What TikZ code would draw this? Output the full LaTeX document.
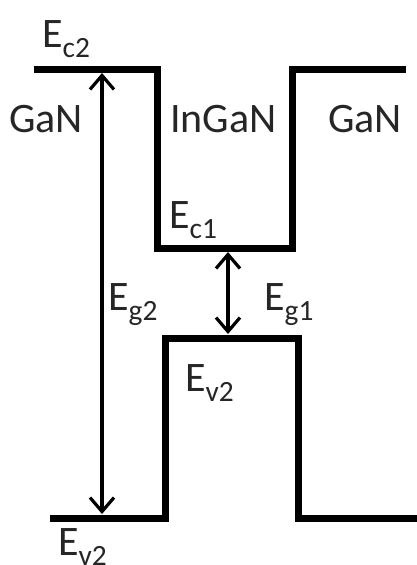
\documentclass[tikz,border=0pt]{standalone}
\usepackage{fontspec}
\setmainfont{Carlito}
\usetikzlibrary{arrows.meta}
\begin{document}
\begin{tikzpicture}[x=1pt,y=-1pt,
  band/.style={line width=7pt,line join=miter,line cap=rect},
  gaparrow/.style={line width=3.2pt,{Straight Barb[length=14pt,width=24pt]}-{Straight Barb[length=14pt,width=24pt]}},
  lbl/.style={anchor=base west,inner sep=0pt,font=\fontsize{42}{46}\selectfont,text=black!85}]
\useasboundingbox (0,0) rectangle (416,565);
% conduction band
\draw[band] (37,69) -- (157,69) -- (157,248) -- (292,248) -- (292,69) -- (402,69);
% valence band
\draw[band] (53,518) -- (165,518) -- (165,338) -- (298,338) -- (298,518) -- (416,518);
% arrow endpoints
\coordinate (g2t) at (102,73);
\coordinate (g2b) at (102,514);
\coordinate (g1t) at (228,252);
\coordinate (g1b) at (228,334);
\draw[gaparrow] (g2t) -- (g2b);
\draw[gaparrow] (g1t) -- (g1b);
% labels
\node[lbl] (ec2) at (42,47) {E\textsubscript{c2}};
\node[lbl] (gan1) at (9,132) {GaN};
\node[lbl] (ingan) at (170,132) {InGaN};
\node[lbl] (gan2) at (328,132) {GaN};
\node[lbl] (ec1) at (169,228) {E\textsubscript{c1}};
\node[lbl] (eg2) at (108,310) {E\textsubscript{g2}};
\node[lbl] (eg1) at (264,310) {E\textsubscript{g1}};
\node[lbl] (ev2a) at (185,391) {E\textsubscript{v2}};
\node[lbl] (ev2b) at (58,555) {E\textsubscript{v2}};
\end{tikzpicture}
\end{document}
